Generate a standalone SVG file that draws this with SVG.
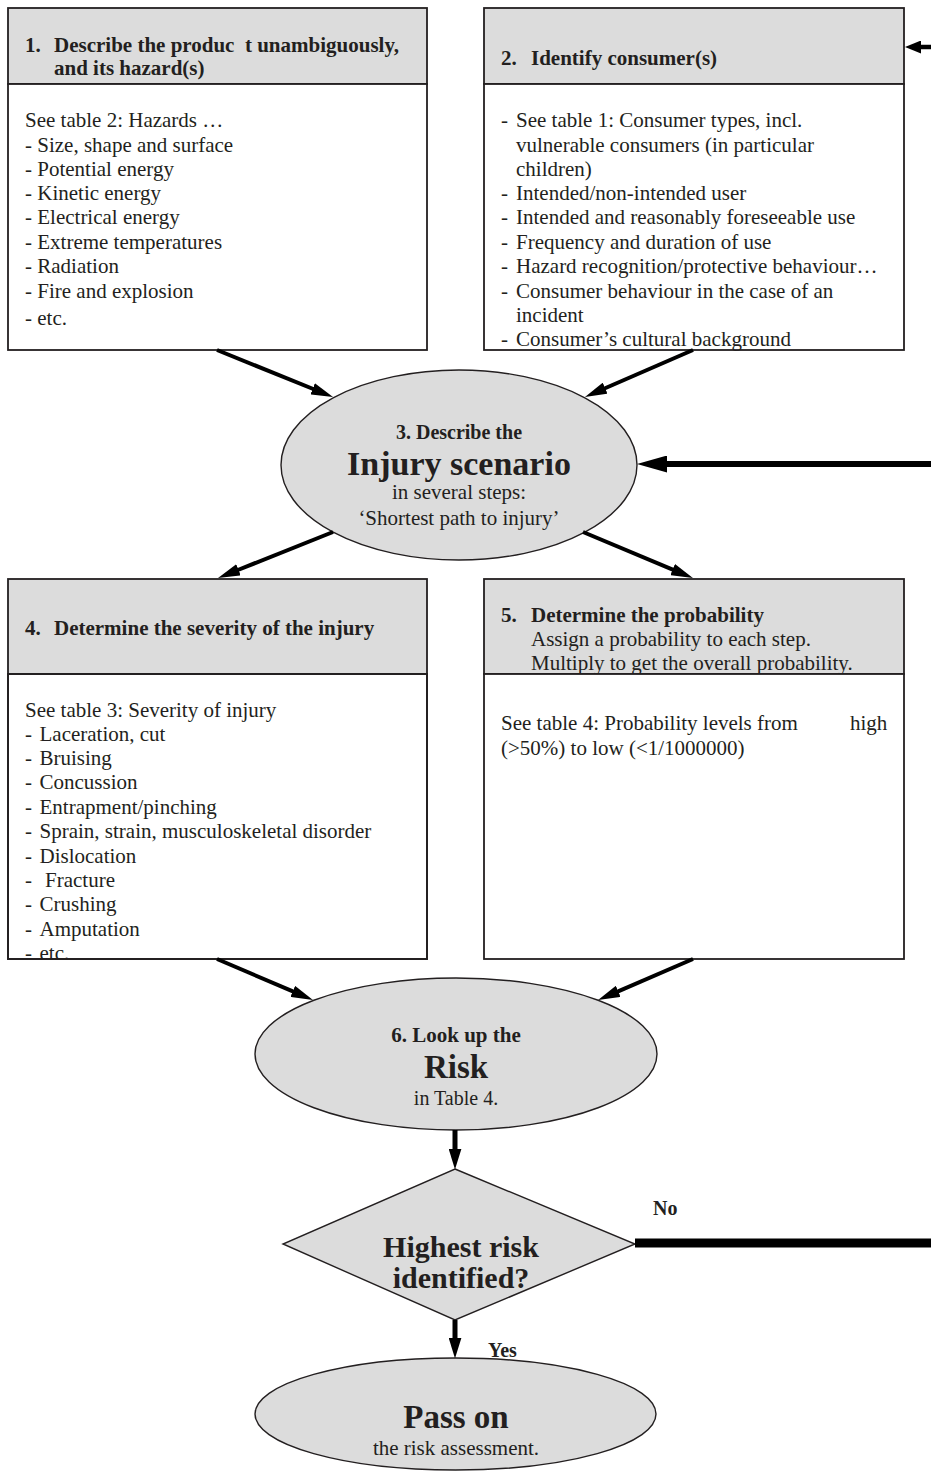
<svg xmlns="http://www.w3.org/2000/svg" width="931" height="1471" viewBox="0 0 931 1471">
<style>
text{font-family:"Liberation Serif","Times New Roman",serif;fill:#231f20;white-space:pre}
.b{font-weight:bold}
.t{font-size:21px}
.c{text-anchor:middle}
.hdr{fill:#dcdcdc;stroke:#231f20;stroke-width:1.8}
.body{fill:#ffffff;stroke:#231f20;stroke-width:1.8}
.shape{fill:#dcdcdc;stroke:#231f20;stroke-width:1.4}
.con{stroke:#000;fill:none}
</style>
<defs>
<marker id="ah" markerUnits="userSpaceOnUse" viewBox="0 -6 22 12" markerWidth="22" markerHeight="12" refX="2" refY="0" orient="auto"><path d="M0,-6 L22,0 L0,6 z" fill="#000"/></marker>
<marker id="ahV" markerUnits="userSpaceOnUse" viewBox="0 -6.5 21 13" markerWidth="21" markerHeight="13" refX="2" refY="0" orient="auto"><path d="M0,-6.5 L21,0 L0,6.5 z" fill="#000"/></marker>
<marker id="ahBig" markerUnits="userSpaceOnUse" viewBox="0 -8.5 30 17" markerWidth="30" markerHeight="17" refX="2" refY="0" orient="auto"><path d="M0,-8.5 L30,0 L0,8.5 z" fill="#000"/></marker>
<marker id="ahSm" markerUnits="userSpaceOnUse" viewBox="0 -6.5 16 13" markerWidth="16" markerHeight="13" refX="2" refY="0" orient="auto"><path d="M0,-6.5 L16,0 L0,6.5 z" fill="#000"/></marker>
<clipPath id="clip4"><rect x="0" y="579" width="470" height="380"/></clipPath>
</defs>

<g id="box1">
<rect class="hdr" x="8" y="8" width="419" height="76"/>
<text class="b t" x="25" y="52">1.</text>
<text class="b t" x="54" y="52">Describe the produc  t unambiguously,</text>
<text class="b t" x="54" y="75">and its hazard(s)</text>
<rect class="body" x="8" y="84" width="419" height="266"/>
<text class="t" x="25" y="127">See table 2: Hazards …</text>
<text class="t" x="25" y="152">- Size, shape and surface</text>
<text class="t" x="25" y="176">- Potential energy</text>
<text class="t" x="25" y="200">- Kinetic energy</text>
<text class="t" x="25" y="224">- Electrical energy</text>
<text class="t" x="25" y="249">- Extreme temperatures</text>
<text class="t" x="25" y="273">- Radiation</text>
<text class="t" x="25" y="298">- Fire and explosion</text>
<text class="t" x="25" y="325">- etc.</text>
</g>

<g id="box2">
<rect class="hdr" x="484" y="8" width="420" height="76"/>
<text class="b t" x="501" y="65">2.</text>
<text class="b t" x="531" y="65">Identify consumer(s)</text>
<rect class="body" x="484" y="84" width="420" height="266"/>
<text class="t" x="501" y="127">-</text><text class="t" x="516" y="127">See table 1: Consumer types, incl.</text>
<text class="t" x="516" y="152">vulnerable consumers (in particular</text>
<text class="t" x="516" y="176">children)</text>
<text class="t" x="501" y="200">-</text><text class="t" x="516" y="200">Intended/non-intended user</text>
<text class="t" x="501" y="224">-</text><text class="t" x="516" y="224">Intended and reasonably foreseeable use</text>
<text class="t" x="501" y="249">-</text><text class="t" x="516" y="249">Frequency and duration of use</text>
<text class="t" x="501" y="273">-</text><text class="t" x="516" y="273">Hazard recognition/protective behaviour…</text>
<text class="t" x="501" y="298">-</text><text class="t" x="516" y="298">Consumer behaviour in the case of an</text>
<text class="t" x="516" y="322">incident</text>
<text class="t" x="501" y="346">-</text><text class="t" x="516" y="346">Consumer’s cultural background</text>
</g>

<g id="node3">
<ellipse class="shape" cx="459" cy="465" rx="178" ry="95"/>
<text class="b c" x="459" y="439" font-size="20">3. Describe the</text>
<text class="b c" x="459" y="475" font-size="34">Injury scenario</text>
<text class="c" x="459" y="499" font-size="21">in several steps:</text>
<text class="c" x="459" y="525" font-size="21">‘Shortest path to injury’</text>
</g>

<g id="box4">
<rect class="hdr" x="8" y="579" width="419" height="95"/>
<text class="b t" x="25" y="635">4.</text>
<text class="b t" x="54" y="635">Determine the severity of the injury</text>
<rect class="body" x="8" y="674" width="419" height="285"/>
<g clip-path="url(#clip4)">
<text class="t" x="25" y="717">See table 3: Severity of injury</text>
<text class="t" x="25" y="741">-</text><text class="t" x="39.5" y="741">Laceration, cut</text>
<text class="t" x="25" y="765">-</text><text class="t" x="39.5" y="765">Bruising</text>
<text class="t" x="25" y="789">-</text><text class="t" x="39.5" y="789">Concussion</text>
<text class="t" x="25" y="814">-</text><text class="t" x="39.5" y="814">Entrapment/pinching</text>
<text class="t" x="25" y="838">-</text><text class="t" x="39.5" y="838">Sprain, strain, musculoskeletal disorder</text>
<text class="t" x="25" y="863">-</text><text class="t" x="39.5" y="863">Dislocation</text>
<text class="t" x="25" y="887">-</text><text class="t" x="45" y="887">Fracture</text>
<text class="t" x="25" y="911">-</text><text class="t" x="39.5" y="911">Crushing</text>
<text class="t" x="25" y="936">-</text><text class="t" x="39.5" y="936">Amputation</text>
<text class="t" x="25" y="959.5">-</text><text class="t" x="39.5" y="959.5">etc.</text>
</g>
<rect x="8" y="674" width="419" height="285" fill="none" stroke="#231f20" stroke-width="1.8"/>
</g>

<g id="box5">
<rect class="hdr" x="484" y="579" width="420" height="95"/>
<text class="b t" x="501" y="622">5.</text>
<text class="b t" x="531" y="622">Determine the probability</text>
<text class="t" x="531" y="646">Assign a probability to each step.</text>
<text class="t" x="531" y="670">Multiply to get the overall probability.</text>
<rect class="body" x="484" y="674" width="420" height="285"/>
<text class="t" x="501" y="730">See table 4: Probability levels from</text>
<text class="t" x="850" y="730">high</text>
<text class="t" x="501" y="755">(&gt;50%) to low (&lt;1/1000000)</text>
</g>

<g id="node6">
<ellipse class="shape" cx="456" cy="1054" rx="201" ry="76"/>
<text class="b c" x="456" y="1042" font-size="21">6. Look up the</text>
<text class="b c" x="456" y="1078" font-size="33">Risk</text>
<text class="c" x="456" y="1105" font-size="20">in Table 4.</text>
</g>

<g id="decision">
<polygon class="shape" points="455,1169 635,1244 455,1320 283,1244"/>
<text class="b c" x="461" y="1257" font-size="30">Highest risk</text>
<text class="b c" x="461" y="1288" font-size="30">identified?</text>
</g>

<g id="passon">
<ellipse class="shape" cx="455.5" cy="1414" rx="200.5" ry="56"/>
<text class="b c" x="456" y="1428" font-size="33">Pass on</text>
<text class="c" x="456" y="1455" font-size="21">the risk assessment.</text>
</g>

<g id="connectors">
<line class="con" stroke-width="4" x1="217" y1="350" x2="314.5" y2="389.5" marker-end="url(#ah)"/>
<line class="con" stroke-width="4" x1="693" y1="350" x2="603.3" y2="389" marker-end="url(#ah)"/>
<line class="con" stroke-width="4" x1="333" y1="532" x2="236.6" y2="570.5" marker-end="url(#ah)"/>
<line class="con" stroke-width="4" x1="583" y1="532" x2="674.5" y2="570.3" marker-end="url(#ah)"/>
<line class="con" stroke-width="4" x1="217" y1="959" x2="294.6" y2="992.2" marker-end="url(#ah)"/>
<line class="con" stroke-width="4" x1="693" y1="959" x2="616.4" y2="992.1" marker-end="url(#ah)"/>
<line class="con" stroke-width="6" x1="935" y1="464" x2="665" y2="464" marker-end="url(#ahBig)"/>
<line class="con" stroke-width="4.5" x1="935" y1="47" x2="919" y2="47" marker-end="url(#ahSm)"/>
<line class="con" stroke-width="5" x1="455" y1="1130" x2="455" y2="1150.5" marker-end="url(#ahV)"/>
<line class="con" stroke-width="5" x1="455" y1="1320" x2="455" y2="1339.5" marker-end="url(#ahV)"/>
<line class="con" stroke-width="9" x1="635" y1="1243" x2="935" y2="1243"/>
<text class="b" x="653" y="1215" font-size="20">No</text>
<text class="b" x="488" y="1357" font-size="20">Yes</text>
</g>
</svg>
